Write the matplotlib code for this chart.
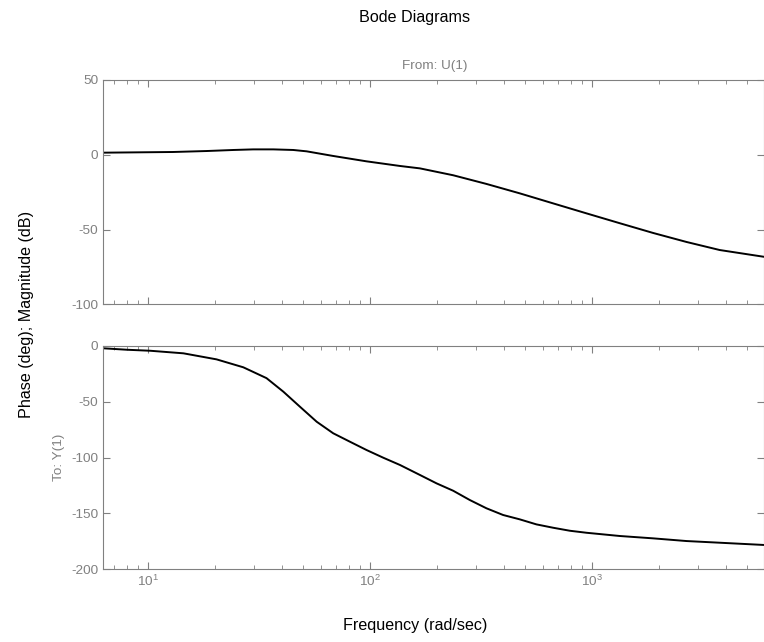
import matplotlib
matplotlib.use("Agg")
import matplotlib.pyplot as plt
from matplotlib.ticker import LogLocator, NullFormatter
import numpy as np

plt.rcParams['font.family'] = ['Liberation Sans', 'DejaVu Sans']
plt.rcParams['axes.unicode_minus'] = False

# magnitude curve
mag_freq = [6.27, 12.9, 18.3, 24.2, 29.7, 36.6, 45, 51.7, 68.1, 96.3, 136.3, 167.5, 236.5,
            334, 472, 667, 944, 1334, 1884, 2661, 3758, 5930]
mag_db = [1.4, 1.85, 2.5, 3.2, 3.6, 3.6, 3.2, 2.3, -0.8, -4.4, -7.5, -9.1, -13.7,
          -19.5, -25.8, -32.5, -39.2, -45.8, -52.3, -58.3, -63.7, -68.2]

# phase curve
ph_freq = [6.27, 8.0, 10.2, 14.4, 20.3, 26.8, 34.1, 40.6, 48.2, 57.4, 68.1, 81.1, 96.3,
           114.6, 136.3, 167.5, 199, 236.5, 281, 334, 397, 472, 561, 667, 794, 944,
           1334, 1884, 2661, 3758, 5930]
ph_deg = [-2.3, -3.6, -4.5, -6.8, -12.2, -19.3, -29, -41.1, -54.5, -68, -78.3, -85.9, -93.3,
          -100.2, -106.7, -115.6, -123.1, -129.7, -138, -145.4, -151.4, -155.3, -159.8,
          -162.8, -165.5, -167.3, -170.2, -172.3, -174.7, -176.2, -178.2]

mag_ticks = [50, 0, -50, -100]
ph_ticks = [0, -50, -100, -150, -200]
xlim = (6.25, 5950)

grey = '#808080'

fig = plt.figure(figsize=(7.64, 6.42), dpi=100)
ax1 = fig.add_axes([0.1348, 0.526, 1 - 0.1348, 0.8754 - 0.526])
ax2 = fig.add_axes([0.1348, 0.1132, 1 - 0.1348, 0.4615 - 0.1132])

ax1.plot(mag_freq, mag_db, color='black', lw=1.4)
ax2.plot(ph_freq, ph_deg, color='black', lw=1.4)

for ax, ticks in ((ax1, mag_ticks), (ax2, ph_ticks)):
    ax.set_xscale('log')
    ax.set_xlim(*xlim)
    ax.set_ylim(min(ticks), max(ticks))
    ax.set_yticks(ticks)
    ax.xaxis.set_major_locator(LogLocator(base=10))
    ax.xaxis.set_minor_locator(LogLocator(base=10, subs=np.arange(2, 10)))
    ax.xaxis.set_minor_formatter(NullFormatter())
    ax.tick_params(which='both', direction='in', top=True, right=True,
                   colors=grey, labelsize=9.7)
    ax.tick_params(which='major', length=5)
    ax.tick_params(which='minor', length=3)
    for s in ax.spines.values():
        s.set_color(grey)

ax1.tick_params(labelbottom=False)

fig.text(0.542, 0.972, 'Bode Diagrams', ha='center', va='center', fontsize=11.6)
fig.text(0.569, 0.897, 'From: U(1)', ha='center', va='center', fontsize=9.7, color=grey)
fig.text(0.077, 0.288, 'To: Y(1)', ha='center', va='center', fontsize=9.7, color=grey,
         rotation=90)
fig.text(0.035, 0.51, 'Phase (deg); Magnitude (dB)', ha='center', va='center',
         fontsize=11.6, rotation=90)
fig.text(0.543, 0.026, 'Frequency (rad/sec)', ha='center', va='center', fontsize=11.6)

fig.savefig('out.png', dpi=100)
